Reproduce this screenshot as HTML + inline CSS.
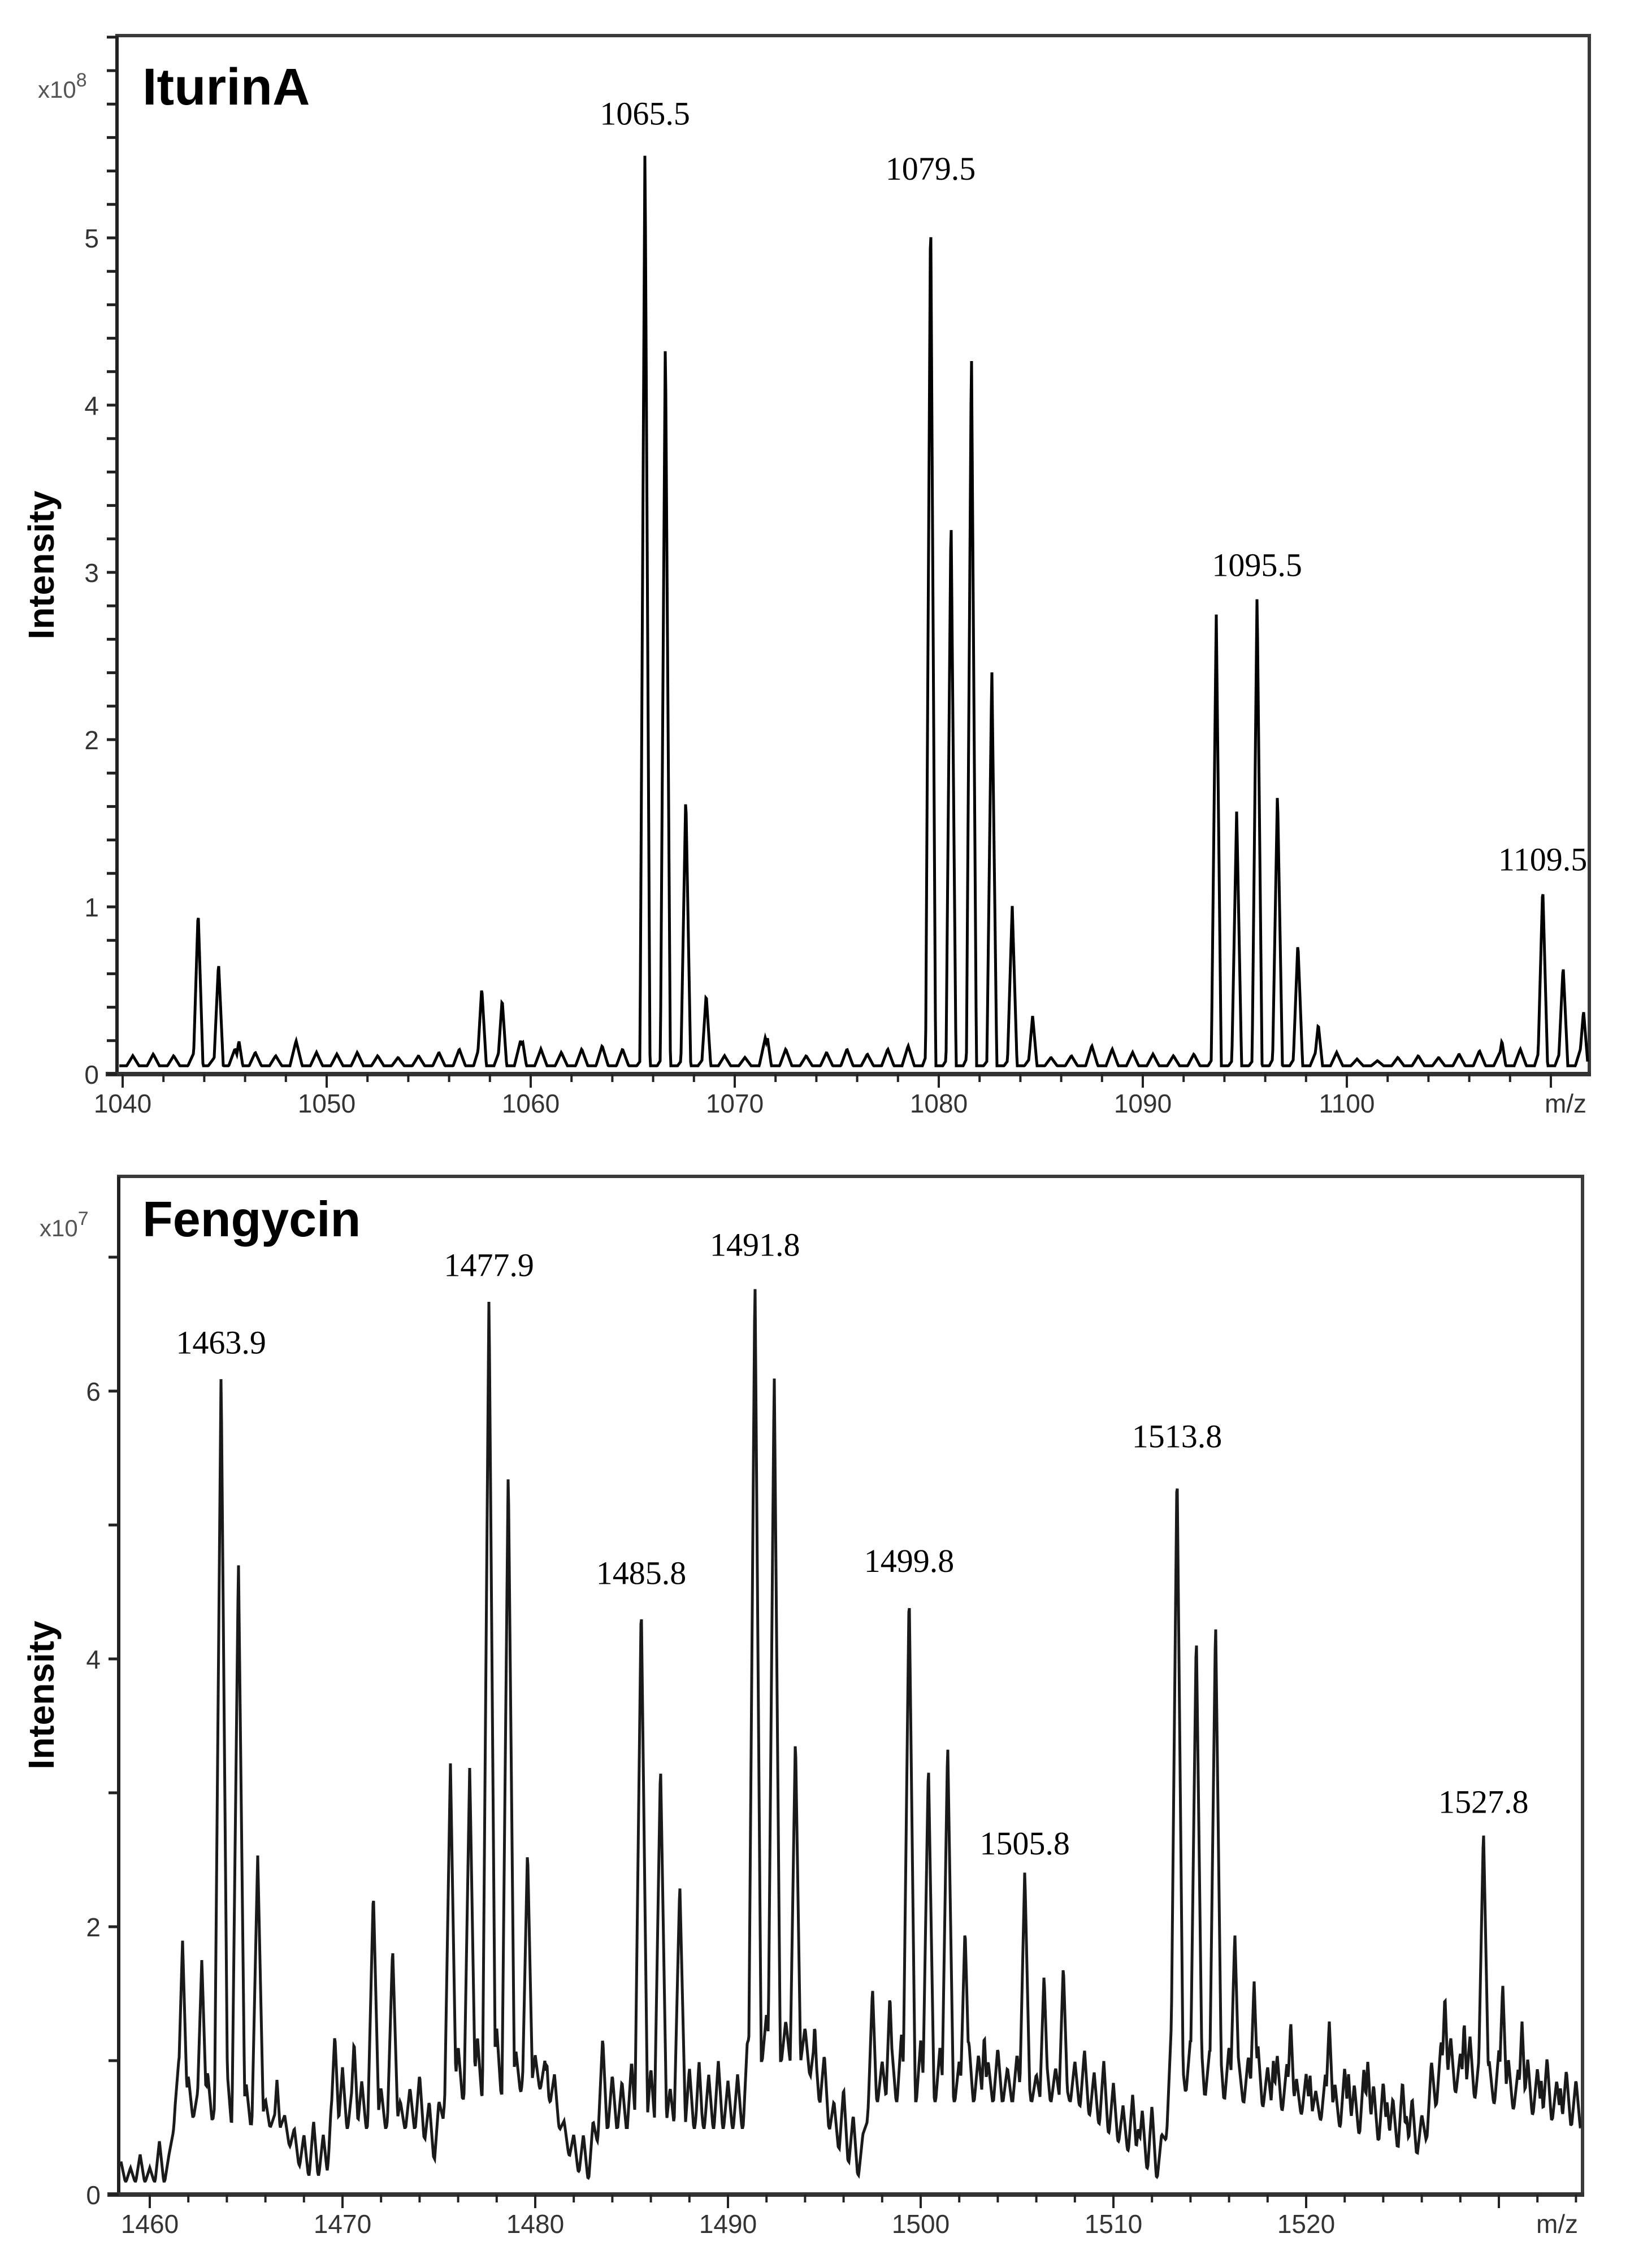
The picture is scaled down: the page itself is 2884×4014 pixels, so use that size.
<!DOCTYPE html>
<html><head><meta charset="utf-8"><title>Mass spectra: IturinA and Fengycin</title>
<style>html,body{margin:0;padding:0;background:#fff;}svg{display:block;}</style>
</head><body>
<svg id="chart" xmlns="http://www.w3.org/2000/svg" width="2884" height="4014" viewBox="0 0 2884 4014">
<rect x="0" y="0" width="2884" height="4014" fill="#fff"/>
<g id="top"></g>
<g id="bot"></g>
</svg>
<script>
// ---------- IturinA data (x10^8) ----------
const itPeakMz = [1043.7,1044.7,1045.7,1048.5,1057.6,1058.6,1059.6,1065.6,1066.6,1067.6,1068.6,1071.6,1079.6,1080.6,1081.6,1082.6,1083.6,1084.6,1093.6,1094.6,1095.6,1096.6,1097.6,1098.6,1107.6,1109.6,1110.6,1111.6];
const itPeakVal = [0.98,0.67,0.2,0.15,0.52,0.45,0.2,5.59,4.45,1.68,0.48,0.22,5.26,3.38,4.38,2.44,1.01,0.35,2.76,1.58,2.89,1.7,0.79,0.3,0.2,1.13,0.65,0.38];
const itNoise = [0.06,0.07,0.06,0.08,0.05,0.1,0.08,0.06,0.15,0.08,0.07,0.08,0.06,0.05,0.06,0.08,0.1,0.12,0.1,0.15,0.1,0.08,0.1,0.12,0.1,0.05,0.06,0.05,0.05,0.06,0.05,0.17,0.1,0.06,0.08,0.1,0.07,0.1,0.12,0.1,0.06,0.08,0.05,0.05,0.05,0.05,0.06,0.12,0.1,0.08,0.07,0.06,0.07,0.06,0.05,0.05,0.07,0.06,0.09,0.08,0.04,0.03,0.05,0.06,0.05,0.07,0.09,0.08,0.1,0.12,0.1,0.12];
const itBaseMz = [1040,1112];
const itBaseVal = [0.05,0.05];
const itLabels = ["1065.5","1079.5","1095.5","1109.5"];
const itLabelMz = [1065.6,1079.6,1095.6,1109.6];
const itLabelVal = [5.59,5.26,2.89,1.13];
const itXTicks = [1040,1050,1060,1070,1080,1090,1100];
const itYTicks = [0,1,2,3,4,5];

// ---------- Fengycin data (x10^7) ----------
const fgPeakMz = [1461.7,1462.7,1463.7,1464.6,1465.6,1466.6,1469.6,1470.6,1471.6,1472.6,1473.6,1475.6,1476.6,1477.6,1478.6,1479.6,1480.6,1483.5,1484.5,1485.5,1486.5,1487.5,1488.5,1489.5,1490.5,1491.4,1492.4,1493.5,1494.5,1495.4,1497.5,1498.4,1499.4,1500.4,1501.4,1502.3,1503.3,1504.3,1505.4,1506.4,1507.4,1508.4,1509.4,1510.4,1511.3,1513.3,1514.3,1515.3,1516.3,1517.3,1518.3,1519.2,1520.2,1521.2,1522.2,1523.2,1524.2,1525.2,1527.2,1528.2,1529.2,1530.2,1531.2,1532.2,1533.2];
const fgPeakVal = [1.9,1.76,6.17,4.75,2.54,0.86,1.2,1.15,2.27,1.85,0.65,3.23,3.2,6.75,5.45,2.59,1.0,1.18,0.65,4.45,3.23,2.33,1.0,0.9,0.6,6.9,6.17,3.44,1.28,0.6,1.55,1.5,4.54,3.24,3.39,2.0,1.2,0.6,2.43,1.65,1.72,0.85,0.7,0.55,0.5,5.47,4.22,4.31,1.96,1.6,1.0,1.3,0.9,1.3,0.9,1.0,0.7,0.6,1.5,1.3,2.74,1.58,1.3,0.85,0.8];
const fgNoise = [0.15,0.1,0.2,0.1,0.3,0.2,0.4,0.3,0.2,0.35,0.25,0.4,0.2,0.3,0.15,0.2,0.1,0.15,0.2,0.3,0.4,0.3,0.25,0.45,0.3,0.35,0.2,0.3,0.25,0.2,0.3,0.4,0.35,0.5,0.3,0.4,0.3,0.45,0.35,0.5,0.4,0.3,0.35,0.25,0.2,0.3,0.15,0.25,0.3,0.45,0.3,0.4,0.35,0.5,0.3,0.45,0.4,0.3,0.35,0.45,0.3,0.4,0.5,0.35,0.4,0.3,0.25,0.35,0.2,0.3,0.15,0.25,0.35,0.45,0.3,0.5,0.4,0.35,0.45,0.3,0.4,0.5,0.35,0.45,0.3,0.4,0.35,0.3,0.45,0.35,0.3,0.4,0.25,0.35,0.3,0.2,0.35,0.25,0.15,0.3,0.45,0.35,0.5,0.4,0.3,0.45,0.4,0.5,0.35,0.45,0.3,0.4,0.5,0.35,0.45,0.4,0.3,0.35,0.45,0.3,0.4,0.35,0.25,0.3,0.2,0.35,0.3,0.45,0.35,0.5,0.4,0.45,0.35,0.5,0.4,0.3,0.45,0.35,0.4,0.3,0.45,0.35,0.3,0.4,0.35,0.3,0.4,0.35,0.45,0.3,0.4,0.35];
const fgBaseMz = [1458.4,1461.0,1461.3,1466.8,1468.0,1469.2,1469.4,1474.0,1475.0,1475.3,1480.5,1482.0,1483.0,1483.3,1490.8,1491.1,1494.0,1495.5,1497.0,1497.3,1508.0,1511.0,1512.5,1513.0,1520.0,1526.0,1527.0,1534.3];
const fgBaseVal = [0.1,0.1,0.6,0.5,0.15,0.15,0.5,0.5,0.2,0.7,0.8,0.2,0.1,0.5,0.5,1.0,1.0,0.4,0.1,0.7,0.7,0.3,0.1,0.8,0.6,0.3,0.8,0.5];
const fgLabels = ["1463.9","1477.9","1485.8","1491.8","1499.8","1505.8","1513.8","1527.8"];
const fgLabelMz = [1463.7,1477.6,1485.5,1491.4,1499.4,1505.4,1513.3,1529.2];
const fgLabelVal = [6.17,6.75,4.45,6.9,4.54,2.43,5.47,2.74];
const fgXTicks = [1460,1470,1480,1490,1500,1510,1520];
const fgYTicks = [0,2,4,6];

const NS = "http://www.w3.org/2000/svg";
function mk(parent, tag, attrs, text) {
  const e = document.createElementNS(NS, tag);
  for (const k in attrs) e.setAttribute(k, attrs[k]);
  if (text !== undefined) e.textContent = text;
  parent.appendChild(e);
  return e;
}
function interp(xs, ys, x) {
  if (x <= xs[0]) return ys[0];
  for (let i = 1; i < xs.length; i++) {
    if (x <= xs[i]) { const t = (x - xs[i-1]) / (xs[i] - xs[i-1]); return ys[i-1] + t * (ys[i] - ys[i-1]); }
  }
  return ys[ys.length - 1];
}

function drawPanel(g, cfg) {
  const X = mz => cfg.x0 + (mz - cfg.mz0) * cfg.pxPerMz;
  const Y = v => cfg.yAxis - v * cfg.pxPerUnit;
  const MZ = px => cfg.mz0 + (px - cfg.x0) / cfg.pxPerMz;

  const frame = mk(g, 'path', {d:`M${cfg.left},${cfg.yAxis} L${cfg.left},${cfg.top} L${cfg.right},${cfg.top} L${cfg.right},${cfg.yAxis}`, fill:'none', stroke:'#3a3a3a', 'stroke-width':6});
  
  

  let pts = [];
  for (let px = cfg.left + 4; px <= cfg.right - 3; px += 1) {
    const m = MZ(px);
    let nz = 0, pk = 0;
    for (let i = 0; i < cfg.noise.length; i++) {
      const c = cfg.noiseStart + i * cfg.noiseStep;
      const d = Math.abs(m - c);
      if (d < cfg.noiseHW) nz = Math.max(nz, cfg.noise[i] * (1 - d / cfg.noiseHW));
    }
    for (let i = 0; i < cfg.peakMz.length; i++) {
      const d = Math.abs(m - cfg.peakMz[i]);
      if (d < cfg.peakHW) pk = Math.max(pk, cfg.peakVal[i] * (1 - d / cfg.peakHW));
    }
    const b = interp(cfg.baseMz, cfg.baseVal, m);
    const tot = Math.max(pk, b + nz);
    pts.push(px + ',' + Y(tot).toFixed(1));
  }
  const trace = mk(g, 'polyline', {points: pts.join(' '), fill:'none', stroke:cfg.lineColor, 'stroke-width':cfg.lineW, 'stroke-linejoin':'miter'});
  
  

  const yAx = mk(g, 'line', {x1:cfg.left, y1:cfg.top, x2:cfg.left, y2:cfg.yAxis + 3, stroke:'#222', 'stroke-width':6});
  
  
  const xAx = mk(g, 'line', {x1:cfg.left - 20, y1:cfg.yAxis, x2:cfg.right + 3, y2:cfg.yAxis, stroke:'#333', 'stroke-width':8});
  
  

  for (let m = Math.ceil(cfg.mz0); X(m) <= cfg.right - 5; m += 2) {
    if (X(m) < cfg.left) continue;
    const major = (m % 10 === 0);
    const t = mk(g, 'line', {x1:X(m), y1:cfg.yAxis, x2:X(m), y2:cfg.yAxis + (major ? 24 : 14), stroke:'#222', 'stroke-width':4});
    
    
  }
  cfg.xTicks.forEach(m => {
    const t = mk(g, 'text', {x:X(m), y:cfg.yAxis + 68, 'text-anchor':'middle', 'font-family':'Liberation Sans, sans-serif', 'font-size':46, fill:'#333'}, String(m));
    
    
  });
  const mzl = mk(g, 'text', {x:cfg.mzLabelX, y:cfg.yAxis + 68, 'text-anchor':'middle', 'font-family':'Liberation Sans, sans-serif', 'font-size':46, fill:'#333'}, 'm/z');
  
  

  for (let k = 0; Y(k * cfg.minorStep) >= cfg.top; k++) {
    const v = k * cfg.minorStep;
    const t = mk(g, 'line', {x1:cfg.left - 18, y1:Y(v), x2:cfg.left, y2:Y(v), stroke:'#222', 'stroke-width':5});
    
    
  }
  cfg.yTicks.forEach(v => {
    const t = mk(g, 'text', {x:cfg.left - 32, y:Y(v) + 17, 'text-anchor':'end', 'font-family':'Liberation Sans, sans-serif', 'font-size':46, fill:'#333'}, String(v));
    
    
  });

  const ex = mk(g, 'text', {x:cfg.left - 140, y:cfg.expY, 'font-family':'Liberation Sans, sans-serif', 'font-size':42, fill:'#555'});
  
  
  mk(ex, 'tspan', {}, 'x10');
  mk(ex, 'tspan', {dy:-20, 'font-size':34}, cfg.exp);

  const ti = mk(g, 'text', {x:252, y:cfg.titleY, 'font-family':'Liberation Sans, sans-serif', 'font-weight':'bold', 'font-size':cfg.titleSize, fill:'#000'}, cfg.title);
  
  

  const yt = mk(g, 'text', {x:0, y:0, transform:`translate(95,${cfg.intensityY}) rotate(-90)`, 'text-anchor':'middle', 'font-family':'Liberation Sans, sans-serif', 'font-weight':'bold', 'font-size':64, fill:'#000'}, 'Intensity');
  
  

  cfg.labels.forEach((s, i) => {
    const t = mk(g, 'text', {x:X(cfg.labelMz[i]), y:Y(cfg.labelVal[i]) - 26, 'text-anchor':'middle', 'font-family':'Liberation Serif, serif', 'font-size':58, fill:'#000'}, s);
    
    
  });
}

drawPanel(document.getElementById('top'), {
  x0:217, mz0:1040, pxPerMz:36.1, yAxis:1901, pxPerUnit:296, left:207, right:2812, top:63,
  peakMz:itPeakMz, peakVal:itPeakVal, peakHW:0.25,
  noise:itNoise, noiseStart:1040.5, noiseStep:1, noiseHW:0.3,
  baseMz:itBaseMz, baseVal:itBaseVal, lineColor:'#000', lineW:5,
  xTicks:itXTicks, yTicks:itYTicks, minorStep:0.2, mzLabelX:2770,
  exp:'8', expY:173, title:'IturinA', titleY:185, titleSize:92, intensityY:1000,
  labels:itLabels, labelMz:itLabelMz, labelVal:itLabelVal
});
drawPanel(document.getElementById('bot'), {
  x0:265, mz0:1460, pxPerMz:34.1, yAxis:3884, pxPerUnit:237, left:210, right:2800, top:2082,
  peakMz:fgPeakMz, peakVal:fgPeakVal, peakHW:0.38,
  noise:fgNoise, noiseStart:1458.5, noiseStep:0.5, noiseHW:0.22,
  baseMz:fgBaseMz, baseVal:fgBaseVal, lineColor:'#1a1a1a', lineW:5,
  xTicks:fgXTicks, yTicks:fgYTicks, minorStep:1, mzLabelX:2755,
  exp:'7', expY:2188, title:'Fengycin', titleY:2188, titleSize:88, intensityY:3000,
  labels:fgLabels, labelMz:fgLabelMz, labelVal:fgLabelVal
});
</script>
</body></html>
